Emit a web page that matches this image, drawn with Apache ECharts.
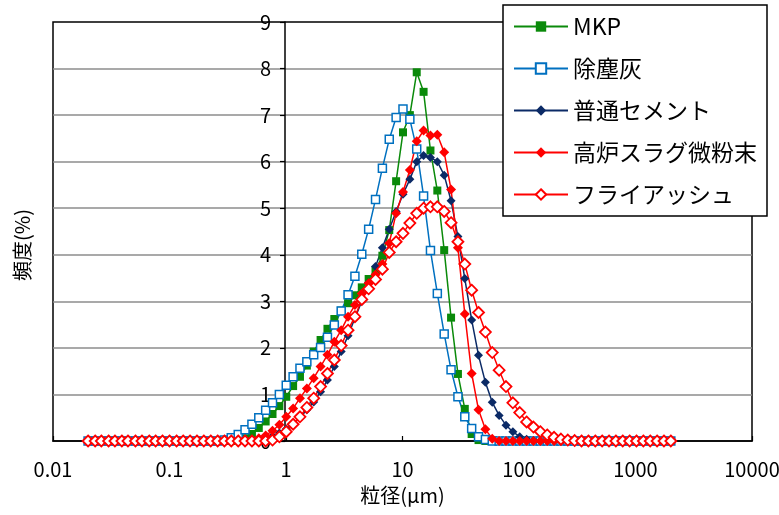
<!DOCTYPE html>
<html>
<head>
<meta charset="utf-8">
<script src="https://cdn.jsdelivr.net/npm/echarts@6/dist/echarts.min.js"></script>
<style>
html,body{margin:0;padding:0;background:#fff;}
#c{width:779px;height:515px;}
</style>
</head>
<body>
<div id="c"></div>
<script>
// Particle size bins (μm)
const sizes = [0.020,0.023,0.026,0.030,0.034,0.039,0.044,0.051,0.058,0.067,0.076,0.087,0.100,0.115,0.131,0.150,0.172,0.197,0.226,0.259,0.296,0.339,0.389,0.445,0.510,0.584,0.669,0.766,0.877,1.005,1.151,1.318,1.510,1.729,1.981,2.269,2.599,2.976,3.409,3.905,4.472,5.122,5.867,6.720,7.697,8.816,10.097,11.565,13.246,15.172,17.377,19.904,22.797,26.111,29.907,34.255,39.234,44.938,51.471,58.953,67.523,77.340,88.583,101.460,116.210,133.103,152.453,174.616,200.000,229.075,262.376,300.518,344.206,394.244,451.556,517.200,592.387,678.504,777.141,890.116,1019.515,1167.725,1337.481,1531.914,1754.613,2009.687];

const seriesNames = ['MKP','除塵灰','普通セメント','高炉スラグ微粉末','フライアッシュ'];

const mkp = [0,0,0,0,0,0,0,0,0,0,0,0,0,0,0,0,0,0,0,0,0,0,
  0.02,0.06,0.15,0.28,0.42,0.58,0.75,0.95,1.18,1.38,1.62,1.92,2.17,2.41,2.62,2.80,2.96,3.13,3.30,3.48,3.67,3.98,4.53,5.58,6.63,7.00,7.92,7.50,6.24,5.38,4.10,2.65,1.44,0.69,0.15,0.02,
  0,0,0,0,0,0,0,0,0,0,0,0,0,0,0,0,0,0,0,0,0,0,0,0,0,0,0,0];

const dust = [0,0,0,0,0,0,0,0,0,0,0,0,0,0,0,0,0,0,0,0,
  0.02,0.07,0.14,0.24,0.36,0.50,0.66,0.82,1.00,1.20,1.38,1.56,1.70,1.85,2.01,2.23,2.49,2.79,3.14,3.54,4.01,4.55,5.19,5.86,6.48,6.95,7.13,6.91,6.27,5.26,4.09,3.17,2.30,1.53,0.95,0.52,0.27,0.09,0.03,
  0,0,0,0,0,0,0,0,0,0,0,0,0,0,0,0,0,0,0,0,0,0,0,0,0,0,0];

const cement = [0,0,0,0,0,0,0,0,0,0,0,0,0,0,0,0,0,0,0,0,0,0,0,0,0,
  0.02,0.05,0.10,0.17,0.26,0.37,0.50,0.67,0.84,1.06,1.31,1.60,1.92,2.26,2.64,3.00,3.40,3.75,4.15,4.55,4.93,5.30,5.62,6.00,6.13,6.09,6.00,5.71,5.16,4.39,3.49,2.60,1.84,1.26,0.83,0.55,0.34,0.20,0.09,0.04,0.01,
  0,0,0,0,0,0,0,0,0,0,0,0,0,0,0,0,0,0,0,0];

const slag = [0,0,0,0,0,0,0,0,0,0,0,0,0,0,0,0,0,0,0,0,0,0,0,0,
  0.02,0.06,0.12,0.22,0.35,0.52,0.70,0.92,1.13,1.35,1.60,1.85,2.13,2.38,2.67,2.92,3.17,3.39,3.57,3.80,4.25,4.89,5.35,5.82,6.44,6.67,6.56,6.58,6.20,5.40,4.15,2.73,1.45,0.67,0.25,0.05,
  0,0,0,0,0,0,0,0,0,0,0,0,0,0,0,0,0,0,0,0,0,0,0,0,0,0];

const flyash = [0,0,0,0,0,0,0,0,0,0,0,0,0,0,0,0,0,0,0,0,0,0,0,0,0,0,0,
  0.02,0.09,0.20,0.36,0.52,0.72,0.92,1.17,1.45,1.74,2.05,2.38,2.67,3.04,3.27,3.47,3.69,4.05,4.28,4.46,4.68,4.89,5.00,5.03,5.03,4.93,4.69,4.28,3.80,3.24,2.76,2.34,1.90,1.52,1.17,0.82,0.61,0.41,0.30,0.20,0.13,0.08,0.04,0.02,0.01,
  0,0,0,0,0,0,0,0,0,0,0,0,0,0];

const xTickLabels = ['0.01','0.1','1','10','100','1000','10000'];
const yTickLabels = ['0','1','2','3','4','5','6','7','8','9'];

const FONT = '"Noto Sans CJK JP", "Liberation Sans", sans-serif';

function pairs(vals){ return sizes.map((s,i)=>[s, vals[i]]); }

const chart = echarts.init(document.getElementById('c'), null, {renderer:'canvas'});

function mkSeries(name, vals, symbol, size, fill, color, bw, lineColor){
  return {
    name: name, type: 'line', data: pairs(vals),
    symbol: symbol, symbolSize: size, showAllSymbol: true,
    lineStyle: {color: lineColor, width: 1.5},
    itemStyle: {color: fill, borderColor: color, borderWidth: bw},
    emphasis: {disabled: true},
    animation: false
  };
}

chart.setOption({
  animation: false,
  backgroundColor: '#fff',
  textStyle: {fontFamily: FONT},
  grid: {left: 53, right: 27, top: 22, bottom: 74, show: true, borderColor: '#000', borderWidth: 1.5, backgroundColor: 'transparent', containLabel: false, outerBoundsMode: 'none'},
  legend: {
    orient: 'vertical', left: 503, top: 5,
    padding: [10, 10, 10, 10],
    backgroundColor: '#fff', borderColor: '#000', borderWidth: 1.5,
    itemWidth: 54, itemHeight: 13, itemGap: 19,
    textStyle: {fontSize: 23, color: '#000', fontFamily: FONT},
    data: seriesNames
  },
  xAxis: {
    type: 'log', logBase: 10, min: 0.01, max: 10000,
    name: '粒径(μm)', nameLocation: 'middle', nameGap: 44,
    nameTextStyle: {fontSize: 20, color: '#000', fontFamily: FONT},
    axisLine: {lineStyle: {color: '#000', width: 1.5}},
    axisTick: {inside: true, length: 5, lineStyle: {color: '#000', width: 1.2}},
    axisLabel: {fontSize: 20, color: '#000', margin: 18, fontFamily: FONT,
      formatter: function(v){ const i = Math.round(Math.log10(v)) + 2; return xTickLabels[i] || ''; }},
    splitLine: {show: false},
    minorTick: {show: false}
  },
  yAxis: {
    type: 'value', min: 0, max: 9, interval: 1,
    offset: -232,
    axisLine: {show: true, lineStyle: {color: '#000', width: 1.5}},
    axisTick: {show: true, inside: false, length: 5, lineStyle: {color: '#000', width: 1.2}},
    axisLabel: {fontSize: 20, color: '#000', margin: 14, fontFamily: FONT,
      formatter: function(v){ return yTickLabels[Math.round(v)]; }},
    splitLine: {show: true, showMinLine: false, showMaxLine: false, lineStyle: {color: '#8c8c8c', width: 1.5}}
  },
  graphic: [{
    type: 'text', x: 22, y: 245, rotation: Math.PI/2,
    style: {text: '頻度(%)', fontSize: 20, fill: '#000', fontFamily: FONT, align: 'center', verticalAlign: 'middle'}
  }],
  series: [
    mkSeries(seriesNames[0], mkp, 'rect', 8, '#0A8A0A', '#0A8A0A', 0, '#0A8A0A'),
    mkSeries(seriesNames[1], dust, 'rect', 8, '#ffffff', '#0070C0', 1.5, '#0070C0'),
    mkSeries(seriesNames[2], cement, 'diamond', 9, '#0B2A66', '#0B2A66', 0, '#0B2A66'),
    mkSeries(seriesNames[3], slag, 'diamond', 10, '#FF0000', '#FF0000', 0, '#FF0000'),
    mkSeries(seriesNames[4], flyash, 'diamond', 11, '#ffffff', '#FF0000', 1.8, '#FF0000')
  ]
});
</script>
</body>
</html>
